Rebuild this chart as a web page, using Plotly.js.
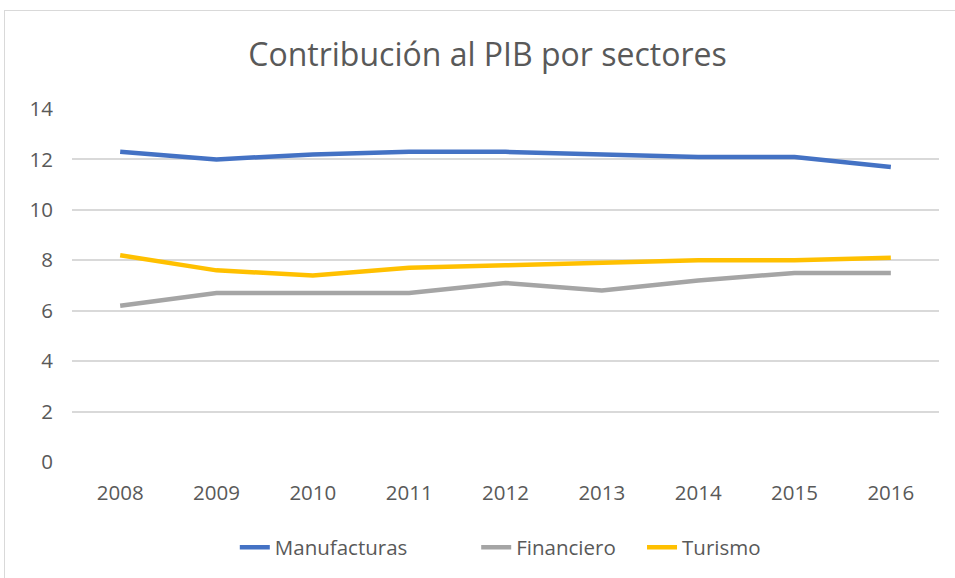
<!DOCTYPE html>
<html>
<head>
<meta charset="utf-8">
<script src="https://cdn.plot.ly/plotly-3.0.1.min.js"></script>
<style>
  html, body { margin: 0; padding: 0; background: #fff; overflow: hidden; }
  #frame { position: absolute; left: 4px; top: 10px; width: 960px; height: 580px; border: 1px solid #d9d9d9; }
  #plot { width: 960px; height: 580px; }
</style>
</head>
<body>
<div id="frame"><div id="plot"></div></div>
<script>
const years = ['2008', '2009', '2010', '2011', '2012', '2013', '2014', '2015', '2016'];
const manufacturas = [12.3, 12.0, 12.2, 12.3, 12.3, 12.2, 12.1, 12.1, 11.7];
const financiero = [6.2, 6.7, 6.7, 6.7, 7.1, 6.8, 7.2, 7.5, 7.5];
const turismo = [8.2, 7.6, 7.4, 7.7, 7.8, 7.9, 8.0, 8.0, 8.1];
const yTicks = [0, 2, 4, 6, 8, 10, 12, 14];

const font = 'Open Sans, sans-serif';
const textColor = '#595959';
const pad = n => '\u00a0'.repeat(n); // extra room between legend entries

function lineTrace(name, values, color) {
    return {
        x: years,
        y: values,
        name: name,
        type: 'scatter',
        mode: 'lines',
        line: { color: color, width: 4.5 },
        hoverinfo: 'x+y'
    };
}

const traces = [
    lineTrace('Manufacturas' + pad(12), manufacturas, '#4472C4'),
    lineTrace('Financiero' + pad(4), financiero, '#A5A5A5'),
    lineTrace('Turismo', turismo, '#FFC000')
];

const layout = {
    width: 960,
    height: 580,
    margin: { l: 67, r: 26, t: 98, b: 128.5 },
    paper_bgcolor: '#fff',
    plot_bgcolor: '#fff',
    font: { family: font, color: textColor, size: 20.5 },
    title: {
        text: 'Contribución al PIB por sectores',
        font: { family: font, size: 32, color: textColor },
        xref: 'container', x: 0.5026, xanchor: 'center',
        yref: 'container', y: 0.924, yanchor: 'middle'
    },
    xaxis: {
        type: 'category',
        range: [-0.5, 8.5],
        showgrid: false,
        showline: false,
        zeroline: false,
        ticks: '',
        ticklabelstandoff: 16,
        tickfont: { family: font, size: 20.5, color: textColor },
        fixedrange: true
    },
    yaxis: {
        range: [0, 14],
        tickvals: yTicks,
        showgrid: true,
        gridcolor: '#d9d9d9',
        gridwidth: 1.6,
        zeroline: false,
        showline: false,
        ticks: '',
        ticklabelstandoff: 18,
        tickfont: { family: font, size: 20.5, color: textColor },
        fixedrange: true
    },
    showlegend: true,
    legend: {
        orientation: 'h',
        x: 0.494, xanchor: 'center',
        y: -0.242, yanchor: 'middle',
        font: { family: font, size: 20.5, color: textColor },
        traceorder: 'normal'
    }
};

Plotly.newPlot('plot', traces, layout, { displayModeBar: false, responsive: false });
</script>
</body>
</html>
